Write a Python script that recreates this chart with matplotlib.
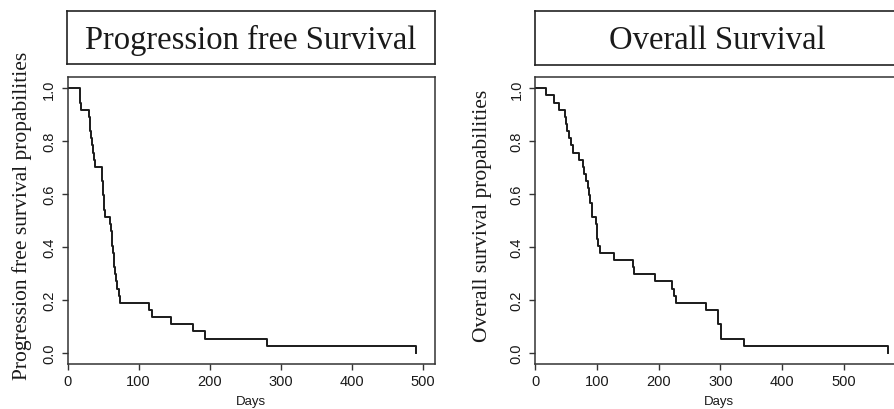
import matplotlib.pyplot as plt
import matplotlib as mpl

mpl.rcParams['font.family'] = ['Liberation Sans', 'DejaVu Sans']

# Kaplan-Meier steps (n = 37)
pfs_days = [0, 17, 19, 30, 31, 32, 33, 35, 36, 37, 39, 48, 49, 50, 50.5, 51, 52, 53,
            60, 61, 62, 63, 64, 65, 66, 67, 68, 70, 72, 74, 115, 119, 146, 176, 194, 281, 490]
pfs_surv = [1.0, 0.946, 0.919, 0.892, 0.865, 0.838, 0.811, 0.784, 0.757, 0.730, 0.703,
            0.676, 0.649, 0.622, 0.595, 0.568, 0.541, 0.514,
            0.486, 0.459, 0.432, 0.405, 0.378, 0.351, 0.324, 0.297, 0.270, 0.243, 0.216, 0.189,
            0.162, 0.135, 0.108, 0.081, 0.054, 0.027, 0.0]

os_days = [0, 17, 30, 39, 48, 50, 52, 55, 58, 61, 72, 77, 80, 83, 85, 87, 89, 92, 99, 100,
           101, 102, 105, 128, 158, 161, 194, 221, 225, 229, 277, 296, 301, 339, 571]
os_surv = [1.0, 0.973, 0.946, 0.919, 0.892, 0.865, 0.838, 0.811, 0.784, 0.757, 0.730, 0.703,
           0.676, 0.649, 0.622, 0.595, 0.568, 0.514, 0.486, 0.459,
           0.432, 0.405, 0.378, 0.351, 0.324, 0.297, 0.270, 0.243, 0.216, 0.189, 0.162, 0.108,
           0.054, 0.027, 0.0]

titles = ["Progression free Survival", "Overall Survival"]
ylabels = ["Progression free survival propabilities", "Overall survival propabilities"]
xticks = [[0, 100, 200, 300, 400, 500], [0, 100, 200, 300, 400, 500]]
yticks = [0.0, 0.2, 0.4, 0.6, 0.8, 1.0]

W, H = 894, 410
fig = plt.figure(figsize=(W / 100, H / 100), dpi=100)

def box(x0, y0, x1, y1):
    # pixel coords (top-left origin) -> figure fraction rect
    return [x0 / W, 1 - y1 / H, (x1 - x0) / W, (y1 - y0) / H]

panels = [
    dict(ax=box(67.5, 77.7, 435, 365), title=box(67, 12.3, 435, 65), xlim=(0, 517),
         days=pfs_days, surv=pfs_surv, ylab_x=22, title_x=0.5),
    dict(ax=box(535, 77.7, 902, 365), title=box(535, 12, 910, 65.5), xlim=(0, 594),
         days=os_days, surv=os_surv, ylab_x=482, title_x=0.485),
]

for i, p in enumerate(panels):
    tax = fig.add_axes(p['title'])
    tax.set_xticks([])
    tax.set_yticks([])
    for s in tax.spines.values():
        s.set_linewidth(1.2)
        s.set_color('#222222')
    tax.text(p['title_x'], 0.47, titles[i], ha='center', va='center',
             fontsize=23.5, family='Liberation Serif', color='#1a1a1a', transform=tax.transAxes)

    ax = fig.add_axes(p['ax'])
    ax.step(p['days'], p['surv'], where='post', color='#1a1a1a', lw=1.4)
    ax.set_xlim(*p['xlim'])
    ax.set_ylim(-0.042, 1.044)
    ax.set_xticks(xticks[i])
    ax.set_yticks(yticks)
    ax.set_yticklabels([f"{v:.1f}" for v in yticks], rotation=90, va='center')
    ax.tick_params(direction='out', length=4.3, width=1.0, color='#333333',
                   labelsize=10.5, labelcolor='#1a1a1a')
    ax.tick_params(axis='y', pad=4)
    ax.tick_params(axis='x', pad=3)
    for sp in ax.spines.values():
        sp.set_linewidth(1.1)
        sp.set_color('#333333')
    ax.set_xlabel("Days", fontsize=9.5, color='#1a1a1a', labelpad=5)
    fig.text(p['ylab_x'] / W, 1 - 216 / H, ylabels[i], rotation=90, ha='center', va='center',
             fontsize=15.5, family='Liberation Serif', color='#1a1a1a')

fig.savefig("out.png", dpi=100)
